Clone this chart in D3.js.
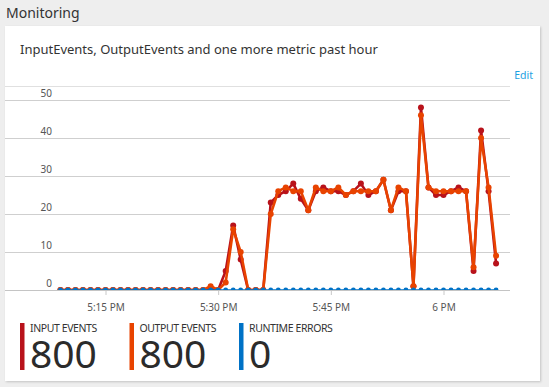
<!DOCTYPE html>
<html>
<head>
<meta charset="utf-8">
<script src="https://cdnjs.cloudflare.com/ajax/libs/d3/7.8.5/d3.min.js"></script>
<style>
  html, body {
    margin: 0;
    padding: 0;
    background: #eeeeee;
    font-family: "Segoe UI", "Noto Sans", sans-serif;
  }
  svg { display: block; }
</style>
</head>
<body>
<svg id="chart" width="549" height="387"></svg>
<script>

// minutes from 5:09 PM to 6:07 PM, one point per minute
var startTime = new Date(2016, 0, 1, 17, 9);
var inputEvents = [
  0, 0, 0, 0, 0, 0, 0, 0, 0, 0, 0, 0, 0, 0, 0, 0, 0, 0, 0, 0,
  0, 0, 5, 17, 8, 0, 0, 0, 23, 25, 26, 28, 24, 21, 26, 27, 26, 26, 25, 26,
  28, 25, 26, 29, 21, 26, 26, 1, 48, 27, 25, 25, 26, 27, 26, 5, 42, 26, 7
];
var outputEvents = [
  0, 0, 0, 0, 0, 0, 0, 0, 0, 0, 0, 0, 0, 0, 0, 0, 0, 0, 0, 0,
  1, 0, 2, 16, 10, 0, 0, 0, 20, 26, 27, 26, 26, 21, 27, 26, 26, 27, 25, 26,
  26, 26, 26, 29, 21, 27, 26, 1, 46, 27, 26, 26, 26, 26, 26, 6, 40, 27, 9
];
var runtimeErrors = inputEvents.map(function() { return 0; });
var times = inputEvents.map(function(d, i) { return d3.timeMinute.offset(startTime, i); });

var yTicks = [0, 10, 20, 30, 40, 50];
var xTicks = [
  new Date(2016, 0, 1, 17, 15),
  new Date(2016, 0, 1, 17, 30),
  new Date(2016, 0, 1, 17, 45),
  new Date(2016, 0, 1, 18, 0)
];
var xTickLabels = ["5:15 PM", "5:30 PM", "5:45 PM", "6 PM"];

var legend = [
  { name: "INPUT EVENTS", total: "800", color: "#b8121b" },
  { name: "OUTPUT EVENTS", total: "800", color: "#e84300" },
  { name: "RUNTIME ERRORS", total: "0", color: "#0072c6" }
];

var svg = d3.select('#chart');

// page title
svg.append('text')
  .attr('x', 6).attr('y', 18)
  .style('font-size', '14px')
  .style('fill', '#333')
  .text('Monitoring');

// card
var defs = svg.append('defs');
var shadow = defs.append('filter').attr('id', 'shadow')
  .attr('x', '-5%').attr('y', '-5%').attr('width', '110%').attr('height', '110%');
shadow.append('feDropShadow')
  .attr('dx', 1).attr('dy', 1).attr('stdDeviation', 1.2)
  .attr('flood-color', '#000').attr('flood-opacity', 0.18);

svg.append('rect')
  .attr('x', 5).attr('y', 26).attr('width', 535).attr('height', 355)
  .attr('fill', '#fff')
  .attr('filter', 'url(#shadow)');

svg.append('text')
  .attr('x', 20).attr('y', 54)
  .style('font-size', '13px')
  .style('fill', '#333')
  .text('InputEvents, OutputEvents and one more metric past hour');

svg.append('text')
  .attr('x', 533).attr('y', 79)
  .attr('text-anchor', 'end')
  .style('font-size', '10.5px')
  .style('fill', '#1ba1e2')
  .text('Edit');

// scales
var x = d3.scaleTime()
  .domain([xTicks[0], xTicks[3]])
  .range([105.5, 443.5]);

var y = d3.scaleLinear()
  .domain([0, 50])
  .range([290, 100]);

var plotLeft = 5, plotRight = 510, plotTop = 86;

// top border of the plot
svg.append('line')
  .attr('x1', plotLeft).attr('x2', plotRight)
  .attr('y1', plotTop + 0.5).attr('y2', plotTop + 0.5)
  .attr('stroke', '#e0e0e0');

// gridlines + y labels
var grid = svg.append('g');
grid.selectAll('line')
  .data(yTicks.filter(function(d) { return d > 0; }))
  .enter().append('line')
  .attr('x1', plotLeft).attr('x2', plotRight)
  .attr('y1', function(d) { return Math.round(y(d)) + 0.5; })
  .attr('y2', function(d) { return Math.round(y(d)) + 0.5; })
  .attr('stroke', '#cfcfcf');

grid.selectAll('text')
  .data(yTicks)
  .enter().append('text')
  .attr('x', 52)
  .attr('y', function(d) { return y(d) - 3; })
  .attr('text-anchor', 'end')
  .style('font-size', '10px')
  .style('fill', '#555')
  .text(function(d) { return d; });

// x axis
var xAxis = d3.axisBottom(x)
  .tickValues(xTicks)
  .tickSize(5)
  .tickFormat(function(d, i) { return xTickLabels[i]; });

var axisG = svg.append('g')
  .attr('transform', 'translate(0,290)')
  .call(xAxis);
axisG.select('.domain').remove();
axisG.selectAll('.tick line').attr('stroke', '#c8c8c8');
axisG.selectAll('.tick text')
  .attr('y', 21)
  .attr('dy', 0)
  .style('font-family', '"Segoe UI", "Noto Sans", sans-serif')
  .style('font-size', '10px')
  .style('fill', '#555');

svg.append('line')
  .attr('x1', plotLeft).attr('x2', plotRight)
  .attr('y1', 290.5).attr('y2', 290.5)
  .attr('stroke', '#c4c4c4');

// clip so markers at zero are cut at the baseline
defs.append('clipPath').attr('id', 'plotClip')
  .append('rect')
  .attr('x', plotLeft).attr('y', plotTop)
  .attr('width', plotRight - plotLeft).attr('height', 290 - plotTop);

var plot = svg.append('g').attr('clip-path', 'url(#plotClip)');

function drawSeries(values, color, width, r) {
  var line = d3.line()
    .x(function(d, i) { return x(times[i]); })
    .y(function(d) { return y(d); });
  var g = plot.append('g');
  g.append('path')
    .datum(values)
    .attr('d', line)
    .attr('fill', 'none')
    .attr('stroke', color)
    .attr('stroke-width', width)
    .attr('stroke-linejoin', 'round');
  g.selectAll('circle')
    .data(values)
    .enter().append('circle')
    .attr('cx', function(d, i) { return x(times[i]); })
    .attr('cy', function(d) { return y(d); })
    .attr('r', r)
    .attr('fill', color);
}

drawSeries(inputEvents, legend[0].color, 2.6, 3);
drawSeries(outputEvents, legend[1].color, 2.6, 3);
drawSeries(runtimeErrors, legend[2].color, 1.5, 2.4);

// legend
var lg = svg.selectAll('.legend')
  .data(legend)
  .enter().append('g')
  .attr('class', 'legend')
  .attr('transform', function(d, i) { return 'translate(' + (20 + i * 109.5) + ',0)'; });

lg.append('rect')
  .attr('x', 0).attr('y', 323)
  .attr('width', 4.5).attr('height', 47)
  .attr('fill', function(d) { return d.color; });

lg.append('text')
  .attr('x', 10).attr('y', 332)
  .style('font-size', '10.5px')
  .style('letter-spacing', '-0.4px')
  .style('fill', '#333')
  .text(function(d) { return d.name; });

lg.append('text')
  .attr('x', 10).attr('y', 368)
  .style('font-size', '39px')
  .style('fill', '#2b2b2b')
  .text(function(d) { return d.total; });

</script>
</body>
</html>
